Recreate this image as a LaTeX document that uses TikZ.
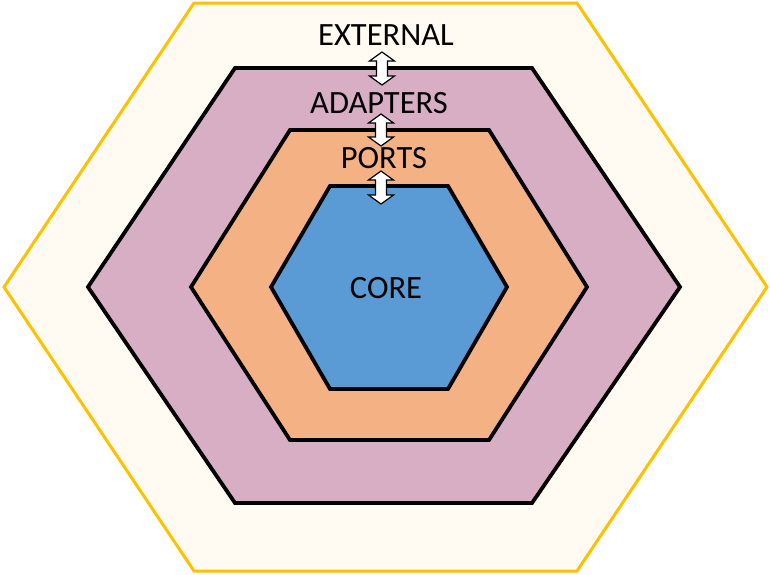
\documentclass[tikz,border=0pt]{standalone}
\usepackage{fontspec}
\setmainfont{Carlito}
\definecolor{extfill}{RGB}{255,251,243}
\definecolor{extline}{RGB}{255,192,0}
\definecolor{adpfill}{RGB}{215,174,196}
\definecolor{prtfill}{RGB}{244,177,131}
\definecolor{corfill}{RGB}{91,155,213}
\tikzset{
  layer/.style={draw=black, line width=3.8pt, line join=miter},
  lbl/.style={anchor=base, inner sep=0pt, text=black, font=\fontsize{32.5}{32.5}\selectfont},
  darrow/.style={draw=black, fill=white, line width=1.2pt, line join=miter}
}
\newcommand{\dblarr}[3]{% x, ytop, ybot
  \path[darrow] (#1,#2) -- ++(12.5,9) -- ++(-7,0) -- (#1+5.5,#3-9) -- (#1+12.5,#3-9) -- (#1,#3) -- (#1-12.5,#3-9) -- (#1-5.5,#3-9) -- (#1-5.5,#2+9) -- (#1-12.5,#2+9) -- cycle;}
\begin{document}
\begin{tikzpicture}[x=1pt,y=-1pt]
\useasboundingbox (0,0) rectangle (770,574);
% external
\draw[fill=extfill, draw=extline, line width=3pt, line join=miter]
  (194,3) -- (577,3) -- (767,287) -- (577,571) -- (194,571) -- (4,287) -- cycle;
% adapters
\draw[layer, fill=adpfill] (235,68) -- (532,68) -- (680,287) -- (532,503) -- (235,503) -- (88,287) -- cycle;
% ports
\draw[layer, fill=prtfill] (290,130) -- (489,130) -- (587,287) -- (489,440) -- (290,440) -- (191,287) -- cycle;
% core
\draw[layer, fill=corfill] (330,186) -- (448,186) -- (507,287) -- (448,389) -- (330,389) -- (271,287) -- cycle;
% arrows
\dblarr{382}{52}{85}
\dblarr{381}{114}{146}
\dblarr{381}{171}{204}
% labels
\node[lbl] (ext) at (386,45) {EXTERNAL};
\node[lbl] (adp) at (379,113) {ADAPTERS};
\node[lbl] (prt) at (384,168) {PORTS};
\node[lbl] (cor) at (386,298) {CORE};
\end{tikzpicture}
\end{document}
